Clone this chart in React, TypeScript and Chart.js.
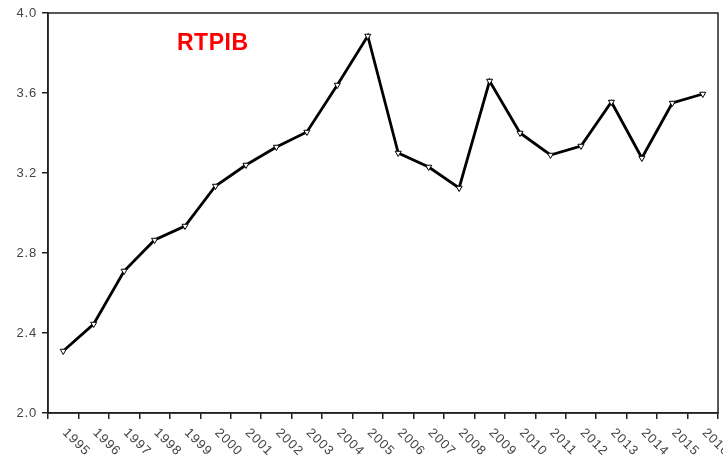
import React, { useEffect, useRef } from "react";
import { Chart, registerables } from "chart.js";

Chart.register(...registerables);

const years = [
  "1995", "1996", "1997", "1998", "1999", "2000", "2001", "2002", "2003", "2004",
  "2005", "2006", "2007", "2008", "2009", "2010", "2011", "2012", "2013", "2014",
  "2015", "2016",
];
const rtpib = [
  2.31, 2.445, 2.71, 2.865, 2.935, 3.135, 3.24, 3.33, 3.405, 3.64,
  3.885, 3.30, 3.23, 3.125, 3.66, 3.40, 3.29, 3.335, 3.555, 3.275,
  3.55, 3.595,
];
const yTicks = [2.0, 2.4, 2.8, 3.2, 3.6, 4.0];
const seriesName = "RTPIB";

const FONT = "'Liberation Sans', Arial, sans-serif";

const spacingPlugin = {
  id: "spacing",
  beforeDraw(chart: any) {
    chart.ctx.letterSpacing = "0.8px";
  },
};

const framePlugin = {
  id: "frameAndLabels",
  afterDraw(chart: any) {
    const { ctx, chartArea } = chart;
    const xs = chart.scales.x;
    ctx.save();
    ctx.strokeStyle = "#222";
    ctx.lineWidth = 1.5;
    ctx.strokeRect(chartArea.left, chartArea.top, chartArea.right - chartArea.left, chartArea.bottom - chartArea.top);
    ctx.fillStyle = "#444";
    ctx.font = `13px ${FONT}`;
    ctx.letterSpacing = "1px";
    ctx.textAlign = "left";
    ctx.textBaseline = "top";
    years.forEach((lab, i) => {
      const x = xs.getPixelForValue(i);
      ctx.save();
      ctx.translate(x + 6, chartArea.bottom + 13);
      ctx.rotate(Math.PI / 4);
      ctx.fillText(lab, 0, 0);
      ctx.restore();
    });
    ctx.fillStyle = "#ff0000";
    ctx.font = `bold 23px ${FONT}`;
    ctx.letterSpacing = "0.5px";
    ctx.textAlign = "left";
    ctx.textBaseline = "middle";
    ctx.fillText(seriesName, chartArea.left + 129, chartArea.top + 31);
    ctx.restore();
  },
};

export default function App() {
  const ref = useRef<HTMLCanvasElement>(null);
  useEffect(() => {
    document.body.style.margin = "0";
    const chart = new Chart(ref.current!, {
      type: "line",
      data: {
        labels: years,
        datasets: [
          {
            label: seriesName,
            data: rtpib,
            borderColor: "#000",
            borderWidth: 2.8,
            tension: 0,
            pointStyle: "triangle",
            rotation: 180,
            pointRadius: 3.5,
            pointBorderWidth: 1,
            pointBackgroundColor: "#fff",
            pointBorderColor: "#000",
          },
        ],
      },
      plugins: [spacingPlugin, framePlugin],
      options: {
        animation: false,
        responsive: false,
        devicePixelRatio: 1,
        layout: { padding: { top: 13, right: 3, left: 0, bottom: 0 } },
        plugins: { legend: { display: false }, tooltip: { enabled: false }, title: { display: false } },
        scales: {
          x: {
            type: "category",
            offset: true,
            grid: { offset: true, drawOnChartArea: false, drawTicks: true, tickLength: 6, color: "#222", lineWidth: 1.5 },
            border: { display: true, color: "#222", width: 1.5 },
            ticks: { display: false },
            afterFit: (s: any) => { s.height = 50; },
          },
          y: {
            min: 2.0,
            max: 4.0,
            afterBuildTicks: (s: any) => { s.ticks = yTicks.map((v) => ({ value: v })); },
            grid: { drawOnChartArea: false, drawTicks: true, tickLength: 6, color: "#222", lineWidth: 1.5 },
            border: { display: true, color: "#222", width: 1.5 },
            ticks: {
              color: "#444",
              font: { family: FONT, size: 13 },
              padding: 5,
              callback: (v: any) => Number(v).toFixed(1),
            },
            afterFit: (s: any) => { s.width = 48; },
          },
        },
      },
    });
    return () => chart.destroy();
  }, []);
  return <canvas ref={ref} width={723} height={463} style={{ display: "block" }} />;
}
